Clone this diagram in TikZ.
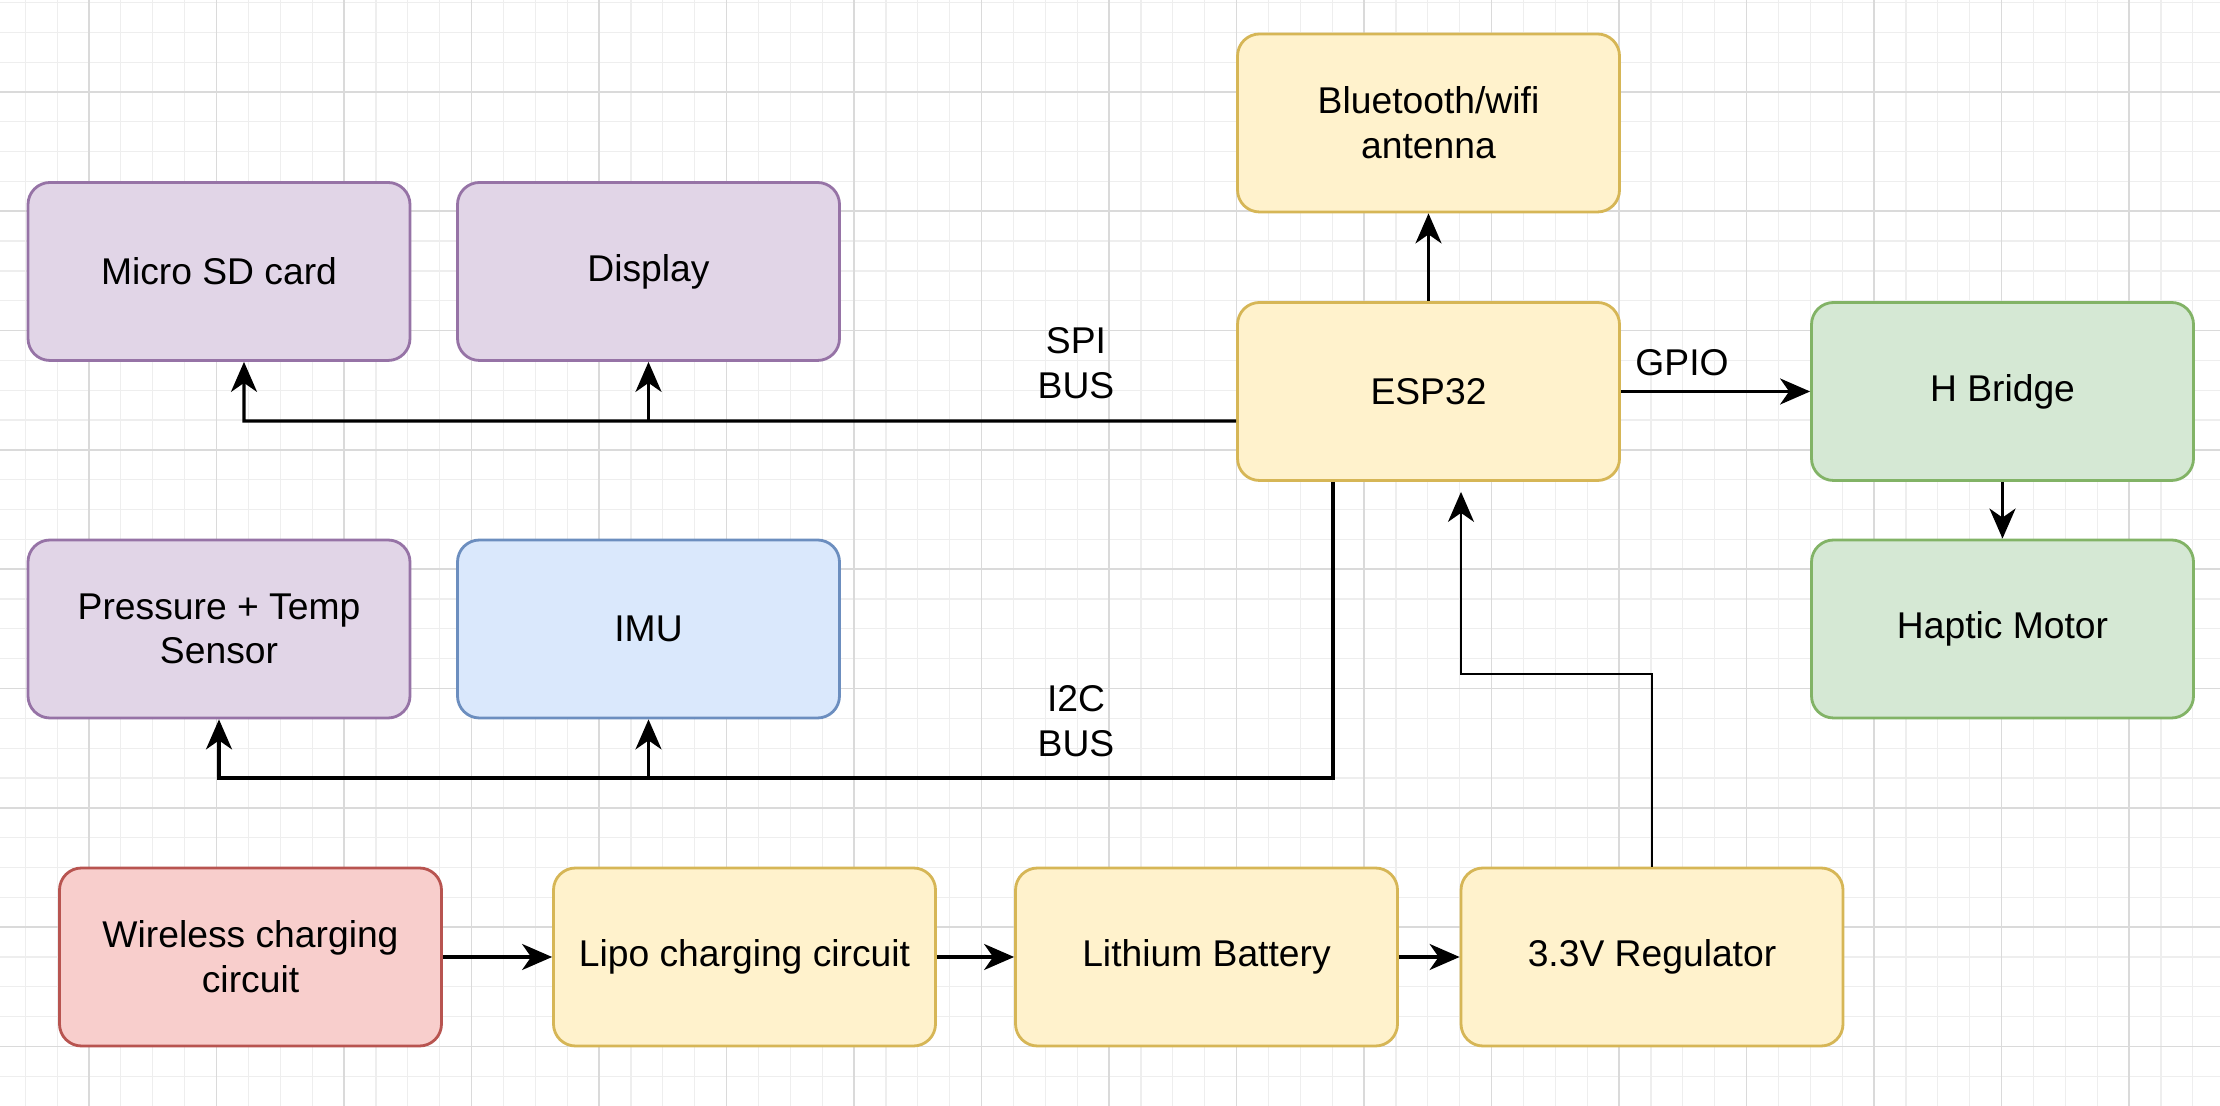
\documentclass[tikz,border=0pt]{standalone}
\usepackage{fontspec}
\setmainfont{Liberation Sans}
\usetikzlibrary{arrows.meta}

\definecolor{purplefill}{HTML}{E1D5E7}
\definecolor{purpleline}{HTML}{9673A6}
\definecolor{yellowfill}{HTML}{FFF2CC}
\definecolor{yellowline}{HTML}{D6B656}
\definecolor{bluefill}{HTML}{DAE8FC}
\definecolor{blueline}{HTML}{6C8EBF}
\definecolor{greenfill}{HTML}{D5E8D4}
\definecolor{greenline}{HTML}{82B366}
\definecolor{redfill}{HTML}{F8CECC}
\definecolor{redline}{HTML}{B85450}
\definecolor{gridminor}{HTML}{EEEEEE}
\definecolor{gridmajor}{HTML}{DADADA}

\begin{document}
\begin{tikzpicture}[font=\fontsize{10.6}{12.7}\selectfont, every node/.style={align=center},
    box/.style={draw, line width=0.8pt, rounded corners=2.2mm, minimum width=3.82cm, minimum height=1.78cm, inner sep=0pt},
    purplebox/.style={box, fill=purplefill, draw=purpleline},
    yellowbox/.style={box, fill=yellowfill, draw=yellowline},
    bluebox/.style={box, fill=bluefill, draw=blueline},
    greenbox/.style={box, fill=greenfill, draw=greenline},
    redbox/.style={box, fill=redfill, draw=redline},
    conn/.style={line width=0.9pt, -{Stealth[length=3mm,width=2.6mm,inset=0.9mm]}},
    thinconn/.style={conn, line width=0.6pt}]
        \useasboundingbox[fill=white] (0,0) rectangle (22.2,11.06);
        \begin{scope}[shift={(0.89,10.14)}]
            \draw[gridminor, line width=0.35pt, xstep=0.31875, ystep=0.29825] (-0.89,-10.14) grid (21.31,0.92);
            \draw[gridmajor, line width=0.45pt, xstep=1.275, ystep=1.193] (-0.89,-10.14) grid (21.31,0.92);
        \end{scope}

        \node[yellowbox] (antenna) at (14.285,9.83) {Bluetooth/wifi\\antenna};
        \node[purplebox] (microsd) at (2.19,8.345) {Micro SD card};
        \node[purplebox] (display) at (6.485,8.345) {Display};
        \node[yellowbox] (esp) at (14.285,7.145) {ESP32};
        \node[greenbox] (hbridge) at (20.025,7.145) {H Bridge};
        \node[greenbox] (haptic) at (20.025,4.77) {Haptic Motor};
        \node[purplebox] (pressure) at (2.19,4.77) {Pressure + Temp\\Sensor};
        \node[bluebox] (imu) at (6.485,4.77) {IMU};
        \node[redbox] (wireless) at (2.505,1.49) {Wireless charging\\circuit};
        \node[yellowbox] (lipo) at (7.445,1.49) {Lipo charging circuit};
        \node[yellowbox] (battery) at (12.065,1.49) {Lithium Battery};
        \node[yellowbox] (regulator) at (16.52,1.49) {3.3V Regulator};

        \node (spilabel) at (10.76,7.43) {SPI\\BUS};
        \node (i2clabel) at (10.76,3.85) {I2C\\BUS};
        \node (gpiolabel) at (16.82,7.43) {GPIO};

        \coordinate (spi) at (2.44,6.85);
        \coordinate (i2c) at (2.19,3.28);
        \coordinate (pwr) at (14.61,4.32);

        \draw[conn] (esp.north) -- (antenna.south);
        \draw[conn] (esp.east) -- (hbridge.west);
        \draw[conn] (hbridge.south) -- (haptic.north);
        \draw[conn] ([yshift=-2.95mm]esp.west) -- (spi) -- (spi |- microsd.south);
        \draw[conn] (display.south |- spi) -- (display.south);
        \draw[conn] ([xshift=-9.55mm]esp.south) |- (i2c) -- (pressure.south);
        \draw[conn] (imu.south |- i2c) -- (imu.south);
        \draw[thinconn, shorten >=1mm] (regulator.north) |- (pwr) -- (pwr |- esp.south);
        \draw[conn] (wireless.east) -- (lipo.west);
        \draw[conn] (lipo.east) -- (battery.west);
        \draw[conn] (battery.east) -- (regulator.west);
    \end{tikzpicture}
\end{document}
